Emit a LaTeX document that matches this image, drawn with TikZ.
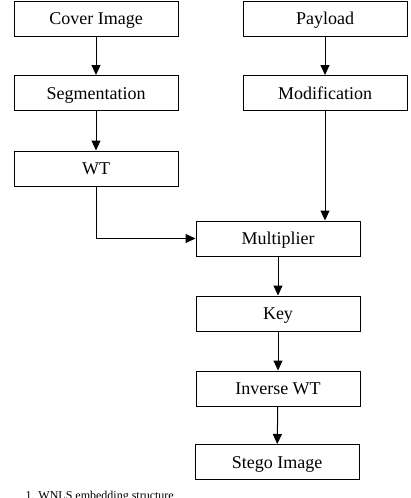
\documentclass[tikz,border=0pt]{standalone}
\usepackage{fontspec}
\setmainfont{Liberation Serif}
\usetikzlibrary{arrows.meta}

\begin{document}
\begin{tikzpicture}[x=1pt, y=-1pt, >={Triangle[length=10pt, width=9pt]},
    every node/.style={draw, line width=1pt, minimum width=164pt, minimum height=35pt, inner sep=0pt, text height=14pt, text depth=2pt, font=\fontsize{18}{20}\selectfont}]
    \useasboundingbox (0,0) rectangle (410,498);
    \clip (0,0) rectangle (410,498);

    % Define blocks of the flow
    \node (cover) at (96, 18.5) {Cover Image};
    \node (payload) at (325, 18.5) {Payload};
    \node (seg) at (96, 93) {Segmentation};
    \node (mod) at (325, 93) {Modification};
    \node (wt) at (96, 168.5) {WT};
    \node (mult) at (278, 238.5) {Multiplier};
    \node (key) at (278, 313.5) {Key};
    \node (inv) at (278, 388.5) {Inverse WT};
    \node (stego) at (277, 462) {Stego Image};

    % Draw arrows between blocks
    \draw[line width=1pt, ->] (cover) -- (seg);
    \draw[line width=1pt, ->] (seg) -- (wt);
    \draw[line width=1pt, ->] (payload) -- (mod);
    \draw[line width=1pt, ->] (wt.south) |- (mult.west);
    \draw[line width=1pt, ->] (mod.south) -- (mod.south |- mult.north);
    \draw[line width=1pt, ->] (mult) -- (key);
    \draw[line width=1pt, ->] (key) -- (inv);
    \draw[line width=1pt, ->] (inv) -- (stego);

    % Caption, cut by the page edge
    \node[draw=none, minimum width=0pt, minimum height=0pt, text height=, text depth=, anchor=north west, font=\fontsize{12}{14}\selectfont] (cap) at (25, 491) {1. WNLS embedding structure};
\end{tikzpicture}
\end{document}
